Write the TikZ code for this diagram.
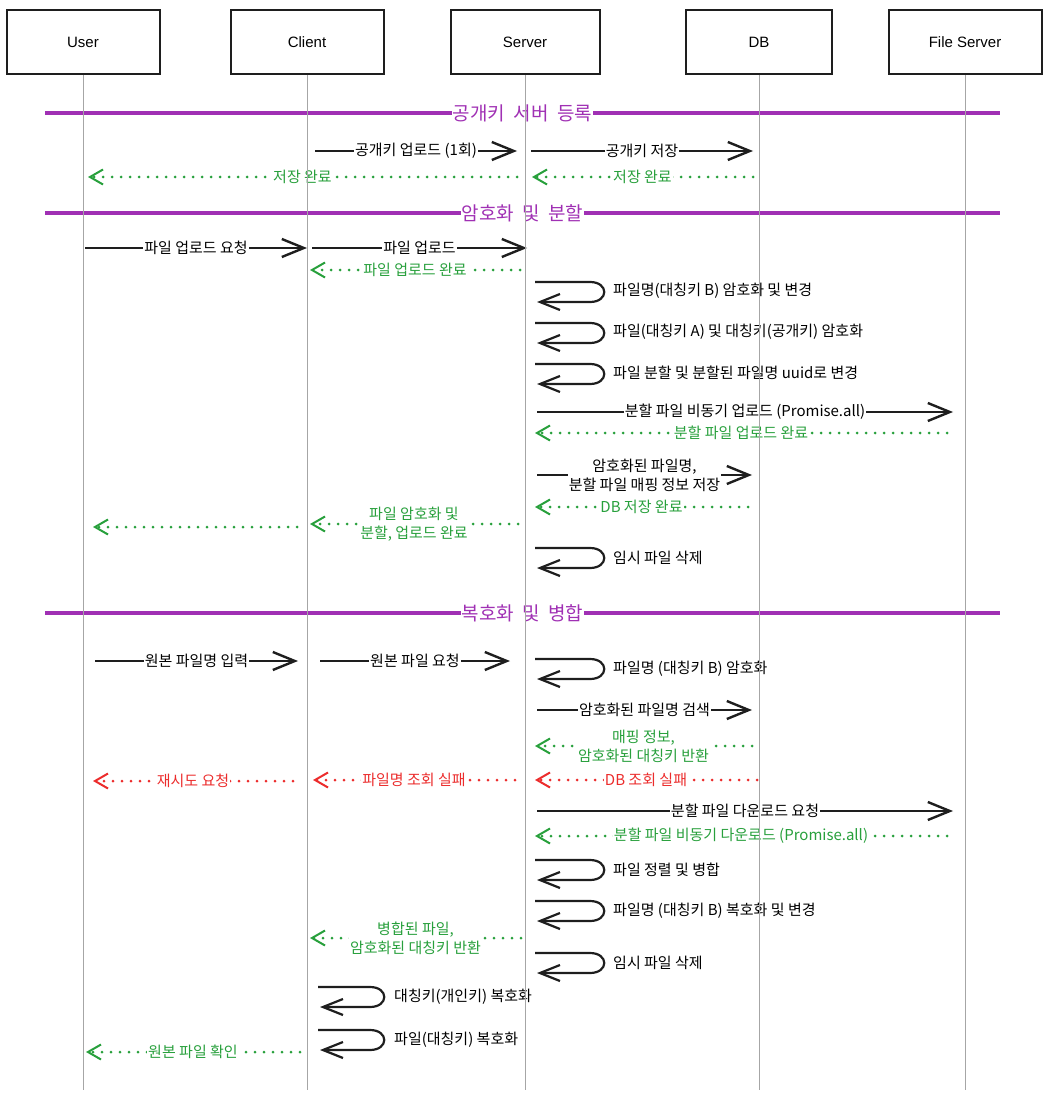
\documentclass[tikz,border=0pt]{standalone}
\usepackage{fontspec}
\setmainfont{Noto Sans CJK KR}
\newfontfamily\boxfont{Liberation Sans}
\usetikzlibrary{arrows.meta}

\definecolor{phasepurple}{RGB}{160,48,180}
\definecolor{okgreen}{RGB}{40,160,60}
\definecolor{failred}{RGB}{236,44,44}
\definecolor{inkblack}{RGB}{30,30,30}

\tikzset{
  actor/.style={draw=inkblack, line width=2pt, minimum width=153pt, minimum height=64pt, font=\boxfont\fontsize{15}{18}\selectfont},
  life/.style={draw=black!35, line width=0.9pt},
  phase/.style={draw=phasepurple, line width=3.8pt},
  phaselbl/.style={fill=white, text=phasepurple, inner sep=1pt, font=\fontsize{19}{22}\selectfont},
  lbl/.style={fill=white, inner sep=1pt, font=\fontsize{15}{19}\selectfont, align=center},
  msg/.style={draw=inkblack, line width=2.4pt, -{Straight Barb[length=22pt,width=18pt]}},
  ret/.style={line width=3pt, dash pattern=on 0pt off 9pt, line cap=round, -{Straight Barb[length=13pt,width=15pt,line width=2pt]}},
  okret/.style={ret, draw=okgreen, text=okgreen},
  failret/.style={ret, draw=failred, text=failred},
  selfcall/.style={draw=inkblack, line width=2.2pt, -{Straight Barb[length=20pt,width=16pt]}},
  note/.style={anchor=west, inner sep=1pt, font=\fontsize{15}{19}\selectfont},
}

\begin{document}
\begin{tikzpicture}[x=1pt, y=-1pt]
  \useasboundingbox (0,0) rectangle (1048,1099);

  % participants
  \node[actor] (user) at (83,42) {User};
  \node[actor] (client) at (307,42) {Client};
  \node[actor, minimum width=149pt] (server) at (525,42) {Server};
  \node[actor, minimum width=146pt] (db) at (759,42) {DB};
  \node[actor] (fs) at (965,42) {File Server};

  \coordinate (userEnd) at (83,1090);
  \coordinate (clientEnd) at (307,1090);
  \coordinate (serverEnd) at (525,1090);
  \coordinate (dbEnd) at (759,1090);
  \coordinate (fsEnd) at (965,1090);

  % 공개키 서버 등록
  \coordinate (p1a) at (45,113); \coordinate (p1b) at (1000,113);
  \draw[phase] (p1a) -- node[phaselbl] (p1t) {공개키\ \ 서버\ \ 등록} (p1b);

  \coordinate (m1a) at (315,151); \coordinate (m1b) at (517,151);
  \draw[msg] (m1a) -- node[lbl] (m1t) {공개키 업로드 (1회)} (m1b);
  \coordinate (m2a) at (531,151); \coordinate (m2b) at (753,151);
  \draw[msg] (m2a) -- node[lbl] (m2t) {공개키 저장} (m2b);
  \coordinate (r1a) at (517,177); \coordinate (r1b) at (88,177);
  \draw[okret] (r1a) -- node[lbl] (r1t) {저장 완료} (r1b);
  \coordinate (r2a) at (753,177); \coordinate (r2b) at (532,177);
  \draw[okret] (r2a) -- node[lbl] (r2t) {저장 완료} (r2b);

  % 암호화 및 분할
  \coordinate (p2a) at (45,213); \coordinate (p2b) at (1000,213);
  \draw[phase] (p2a) -- node[phaselbl] (p2t) {암호화\ \ 및\ \ 분할} (p2b);

  \coordinate (m3a) at (85,248); \coordinate (m3b) at (307,248);
  \draw[msg] (m3a) -- node[lbl] (m3t) {파일 업로드 요청} (m3b);
  \coordinate (m4a) at (312,248); \coordinate (m4b) at (527,248);
  \draw[msg] (m4a) -- node[lbl] (m4t) {파일 업로드} (m4b);
  \coordinate (r3a) at (520,270); \coordinate (r3b) at (310,270);
  \draw[okret] (r3a) -- node[lbl] (r3t) {파일 업로드 완료} (r3b);

  \coordinate (s1) at (535,282);
  \draw[selfcall] (s1) -- ++(55,0) .. controls +(19,0) and +(19,0) .. ++(0,20) -- ++(-53,0);
  \node[note] (s1t) at (612,291) {파일명(대칭키 B) 암호화 및 변경};
  \coordinate (s2) at (535,323);
  \draw[selfcall] (s2) -- ++(55,0) .. controls +(19,0) and +(19,0) .. ++(0,20) -- ++(-53,0);
  \node[note] (s2t) at (612,332) {파일(대칭키 A) 및 대칭키(공개키) 암호화};
  \coordinate (s3) at (535,364);
  \draw[selfcall] (s3) -- ++(55,0) .. controls +(19,0) and +(19,0) .. ++(0,20) -- ++(-53,0);
  \node[note] (s3t) at (612,373) {파일 분할 및 분할된 파일명 uuid로 변경};

  \coordinate (m5a) at (537,412); \coordinate (m5b) at (953,412);
  \draw[msg] (m5a) -- node[lbl] (m5t) {분할 파일 비동기 업로드 (Promise.all)} (m5b);
  \coordinate (r4a) at (947,433); \coordinate (r4b) at (535,433);
  \draw[okret] (r4a) -- node[lbl] (r4t) {분할 파일 업로드 완료} (r4b);

  \coordinate (m6a) at (537,475); \coordinate (m6b) at (752,475);
  \draw[msg] (m6a) -- node[lbl] (m6t) {암호화된 파일명,\\분할 파일 매핑 정보 저장} (m6b);
  \coordinate (r5a) at (748,507); \coordinate (r5b) at (535,507);
  \draw[okret] (r5a) -- node[lbl] (r5t) {DB 저장 완료} (r5b);

  \coordinate (r6a) at (518,524); \coordinate (r6b) at (310,524);
  \draw[okret] (r6a) -- node[lbl] (r6t) {파일 암호화 및\\분할, 업로드 완료} (r6b);
  \coordinate (r7a) at (297,527); \coordinate (r7b) at (93,527);
  \draw[okret] (r7a) -- (r7b);

  \coordinate (s4) at (535,548);
  \draw[selfcall] (s4) -- ++(55,0) .. controls +(19,0) and +(19,0) .. ++(0,20) -- ++(-53,0);
  \node[note] (s4t) at (612,558) {임시 파일 삭제};

  % 복호화 및 병합
  \coordinate (p3a) at (45,613); \coordinate (p3b) at (1000,613);
  \draw[phase] (p3a) -- node[phaselbl] (p3t) {복호화\ \ 및\ \ 병합} (p3b);

  \coordinate (m7a) at (95,661); \coordinate (m7b) at (298,661);
  \draw[msg] (m7a) -- node[lbl] (m7t) {원본 파일명 입력} (m7b);
  \coordinate (m8a) at (320,661); \coordinate (m8b) at (510,661);
  \draw[msg] (m8a) -- node[lbl] (m8t) {원본 파일 요청} (m8b);

  \coordinate (s5) at (535,659);
  \draw[selfcall] (s5) -- ++(55,0) .. controls +(19,0) and +(19,0) .. ++(0,20) -- ++(-53,0);
  \node[note] (s5t) at (612,669) {파일명 (대칭키 B) 암호화};

  \coordinate (m9a) at (537,710); \coordinate (m9b) at (752,710);
  \draw[msg] (m9a) -- node[lbl] (m9t) {암호화된 파일명 검색} (m9b);
  \coordinate (r8a) at (752,746); \coordinate (r8b) at (535,746);
  \draw[okret] (r8a) -- node[lbl] (r8t) {매핑 정보,\\암호화된 대칭키 반환} (r8b);

  \coordinate (f1a) at (757,780); \coordinate (f1b) at (535,780);
  \draw[failret] (f1a) -- node[lbl] (f1t) {DB 조회 실패} (f1b);
  \coordinate (f2a) at (515,780); \coordinate (f2b) at (313,780);
  \draw[failret] (f2a) -- node[lbl] (f2t) {파일명 조회 실패} (f2b);
  \coordinate (f3a) at (293,781); \coordinate (f3b) at (93,781);
  \draw[failret] (f3a) -- node[lbl] (f3t) {재시도 요청} (f3b);

  \coordinate (m10a) at (537,811); \coordinate (m10b) at (953,811);
  \draw[msg] (m10a) -- node[lbl] (m10t) {분할 파일 다운로드 요청} (m10b);
  \coordinate (r9a) at (947,836); \coordinate (r9b) at (535,836);
  \draw[okret] (r9a) -- node[lbl] (r9t) {분할 파일 비동기 다운로드 (Promise.all)} (r9b);

  \coordinate (s6) at (535,860);
  \draw[selfcall] (s6) -- ++(55,0) .. controls +(19,0) and +(19,0) .. ++(0,20) -- ++(-53,0);
  \node[note] (s6t) at (612,870) {파일 정렬 및 병합};
  \coordinate (s7) at (535,901);
  \draw[selfcall] (s7) -- ++(55,0) .. controls +(19,0) and +(19,0) .. ++(0,20) -- ++(-53,0);
  \node[note] (s7t) at (612,911) {파일명 (대칭키 B) 복호화 및 변경};

  \coordinate (r10a) at (521,938); \coordinate (r10b) at (310,938);
  \draw[okret] (r10a) -- node[lbl] (r10t) {병합된 파일,\\암호화된 대칭키 반환} (r10b);

  \coordinate (s8) at (535,953);
  \draw[selfcall] (s8) -- ++(55,0) .. controls +(19,0) and +(19,0) .. ++(0,20) -- ++(-53,0);
  \node[note] (s8t) at (612,963) {임시 파일 삭제};

  \coordinate (s9) at (318,987);
  \draw[selfcall] (s9) -- ++(52,0) .. controls +(19,0) and +(19,0) .. ++(0,20) -- ++(-50,0);
  \node[note] (s9t) at (393,997) {대칭키(개인키) 복호화};
  \coordinate (s10) at (318,1030);
  \draw[selfcall] (s10) -- ++(52,0) .. controls +(19,0) and +(19,0) .. ++(0,20) -- ++(-50,0);
  \node[note] (s10t) at (393,1040) {파일(대칭키) 복호화};

  \coordinate (r11a) at (300,1052); \coordinate (r11b) at (86,1052);
  \draw[okret] (r11a) -- node[lbl] (r11t) {원본 파일 확인} (r11b);

  % lifelines on top, as in the sketch
  \draw[life] (user) -- (userEnd);
  \draw[life] (client) -- (clientEnd);
  \draw[life] (server) -- (serverEnd);
  \draw[life] (db) -- (dbEnd);
  \draw[life] (fs) -- (fsEnd);
\end{tikzpicture}
\end{document}
